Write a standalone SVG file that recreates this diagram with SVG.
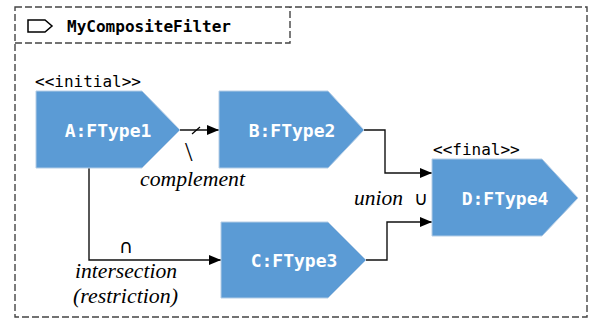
<svg xmlns="http://www.w3.org/2000/svg" width="594" height="320" viewBox="0 0 594 320">
<defs>
<style>
.frame{fill:none;stroke:#444;stroke-width:1.4;stroke-dasharray:7 3}
.node{fill:#5B9BD5;stroke:#b4cde6;stroke-width:1}
.nl{font-family:"DejaVu Sans Mono",monospace;font-weight:bold;font-size:18px;fill:#fff;text-anchor:middle}
.st{font-family:"DejaVu Sans Mono",monospace;font-size:16px;fill:#000}
.lab{font-family:"Liberation Serif",serif;font-style:italic;font-size:22px;fill:#000}
.sym{font-family:"DejaVu Sans",sans-serif;font-size:19px;fill:#000}
.edge{fill:none;stroke:#111;stroke-width:1.4}
</style>
<marker id="ah" viewBox="0 0 12 10" refX="12" refY="5" markerWidth="12" markerHeight="10" markerUnits="userSpaceOnUse" orient="auto"><path d="M0,0 L12,5 L0,10 z" fill="#000"/></marker>
</defs>
<rect width="594" height="320" fill="#fff"/>
<g id="frame">
<rect class="frame" x="15" y="7" width="572" height="310"/>
<path class="frame" d="M15,43 H290 V7"/>
<polygon points="28,20 45,20 52,26 45,32 28,32" fill="none" stroke="#000" stroke-width="1.5"/>
<text x="67" y="32" font-family="'DejaVu Sans Mono',monospace" font-weight="bold" font-size="15.5" textLength="164" lengthAdjust="spacingAndGlyphs">MyCompositeFilter</text>
</g>
<g id="connectors">
<path class="edge" d="M180,130 H219" marker-end="url(#ah)"/>
<line x1="192" y1="134" x2="200" y2="127" stroke="#000" stroke-width="1.2"/>
<path class="edge" d="M364,130 H385 V173 H432" marker-end="url(#ah)"/>
<path class="edge" d="M366,260 H387 V222 H432" marker-end="url(#ah)"/>
<path class="edge" d="M89,168 V260 H221" marker-end="url(#ah)"/>
<text x="185" y="161" font-family="'Liberation Serif',serif" font-size="27">\</text>
<text class="lab" x="140" y="186" textLength="105" lengthAdjust="spacingAndGlyphs">complement</text>
<text class="lab" x="354" y="205" textLength="49" lengthAdjust="spacingAndGlyphs">union</text>
<text class="sym" x="414" y="205">∪</text>
<text class="sym" x="119" y="253">∩</text>
<text class="lab" x="75" y="278" textLength="102" lengthAdjust="spacingAndGlyphs">intersection</text>
<text class="lab" x="73" y="303" textLength="105" lengthAdjust="spacingAndGlyphs">(restriction)</text>
</g>
<g id="A">
<text class="st" x="35" y="87">&lt;&lt;initial&gt;&gt;</text>
<path class="node" d="M36,91 H142 L180,130 L142,168 H36 Z"/>
<text class="nl" x="108" y="137">A:FType1</text>
</g>
<g id="B">
<path class="node" d="M219,91 H328 L364,130 L328,168 H219 Z"/>
<text class="nl" x="292" y="137">B:FType2</text>
</g>
<g id="C">
<path class="node" d="M221,222 H328 L366,260 L328,298 H221 Z"/>
<text class="nl" x="294" y="267">C:FType3</text>
</g>
<g id="D">
<text class="st" x="433" y="155">&lt;&lt;final&gt;&gt;</text>
<path class="node" d="M432,159 H542 L578,198 L542,236 H432 Z"/>
<text class="nl" x="505" y="205">D:FType4</text>
</g>
</svg>
